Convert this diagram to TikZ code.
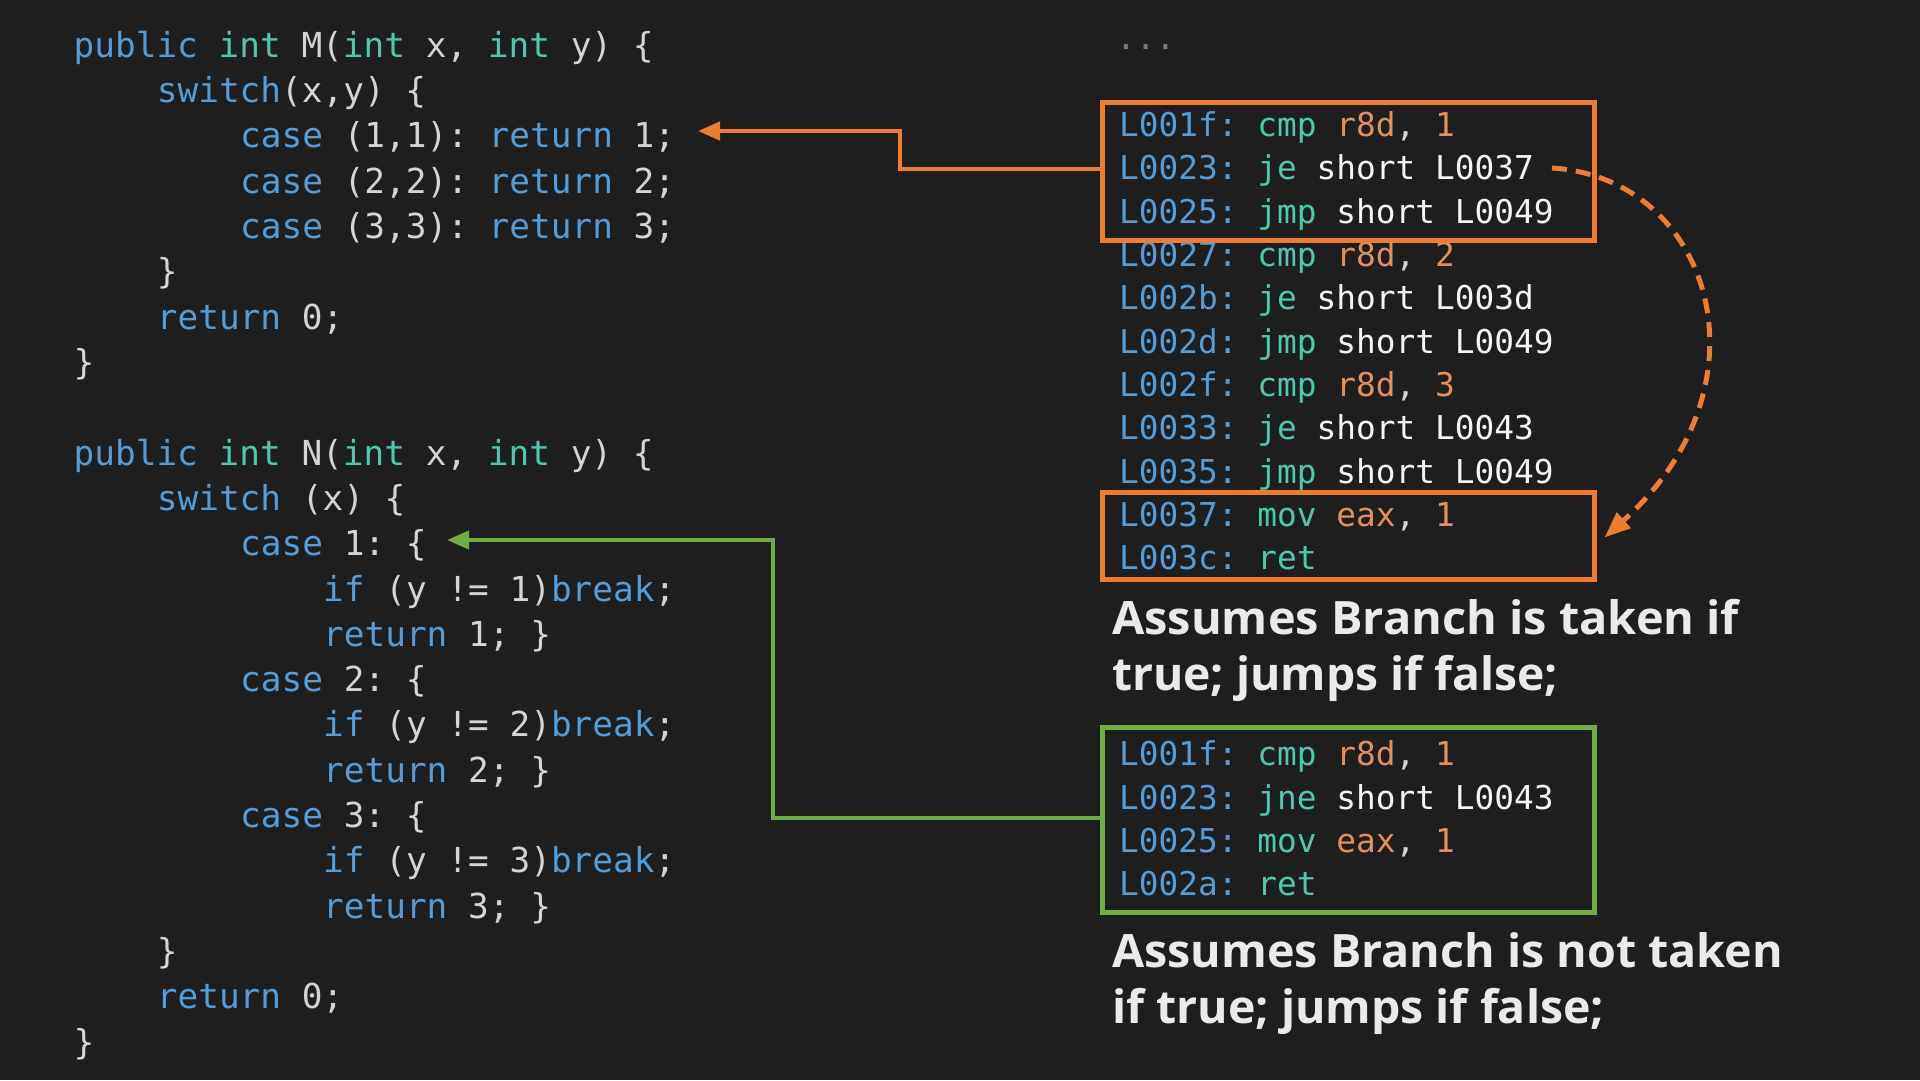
\documentclass[tikz,border=0pt]{standalone}
\usepackage{fontspec}
\usepackage{graphicx}
\usetikzlibrary{arrows.meta,calc}
\newfontfamily\codefont{DejaVu Sans Mono}
\newfontfamily\capfont{Open Sans}
\definecolor{bg}{HTML}{1E1E1E}
\definecolor{kw}{HTML}{569CD6}
\definecolor{ty}{HTML}{4EC9B0}
\definecolor{tx}{HTML}{D4D4D4}
\definecolor{st}{HTML}{E0915F}
\definecolor{wh}{HTML}{F4F4F4}
\definecolor{dim}{HTML}{7A7A7A}
\definecolor{captx}{HTML}{EAEAEA}
\definecolor{orn}{HTML}{ED7D31}
\definecolor{grn}{HTML}{70AD47}
\newcommand\ckw[1]{\textcolor{kw}{#1}}
\newcommand\cty[1]{\textcolor{ty}{#1}}
\newcommand\cor[1]{\textcolor{st}{#1}}
\newcommand\cwh[1]{\textcolor{wh}{#1}}
\tikzset{
  cl/.style={anchor=base west, inner sep=0pt, text=tx, font=\codefont\frenchspacing\fontsize{34.4}{40}\selectfont},
  al/.style={anchor=base west, inner sep=0pt, text=tx, font=\codefont\frenchspacing\fontsize{32.8}{40}\selectfont},
  captext/.style={anchor=base west, inner sep=0pt, text=captx, font=\capfont\bfseries\frenchspacing\fontsize{46}{52}\selectfont},
  hbox/.style={draw=#1, line width=5pt, minimum width=492pt, inner sep=0pt},
  conn/.style={draw=#1, line width=4.5pt, -{Triangle[length=22pt,width=18pt]}},
}
\begin{document}
\begin{tikzpicture}[x=1pt,y=-1pt]
\path[fill=bg,use as bounding box] (0,0) rectangle (1920,1080);
% ---- method M
\node[cl] (m0) at (73.5,57.3) {\ckw{public} \cty{int} M(\cty{int} x, \cty{int} y) \{};
\node[cl] (m1) at (156.7,102.6) {\ckw{switch}(x,y) \{};
\node[cl] (m2) at (240,147.9) {\ckw{case} (1,1): \ckw{return} 1;};
\node[cl] (m3) at (240,193.2) {\ckw{case} (2,2): \ckw{return} 2;};
\node[cl] (m4) at (240,238.5) {\ckw{case} (3,3): \ckw{return} 3;};
\node[cl] (m5) at (156.7,283.9) {\}};
\node[cl] (m6) at (156.7,329.2) {\ckw{return} 0;};
\node[cl] (m7) at (73.5,374.5) {\}};
% ---- method N
\node[cl] (n0) at (73.5,465.1) {\ckw{public} \cty{int} N(\cty{int} x, \cty{int} y) \{};
\node[cl] (n1) at (156.7,510.4) {\ckw{switch} (x) \{};
\node[cl] (n2) at (240,555.7) {\ckw{case} 1: \{};
\node[cl] (n3) at (323,601.0) {\ckw{if} (y != 1)\ckw{break};};
\node[cl] (n4) at (323,646.3) {\ckw{return} 1; \}};
\node[cl] (n5) at (240,691.6) {\ckw{case} 2: \{};
\node[cl] (n6) at (323,736.9) {\ckw{if} (y != 2)\ckw{break};};
\node[cl] (n7) at (323,782.2) {\ckw{return} 2; \}};
\node[cl] (n8) at (240,827.5) {\ckw{case} 3: \{};
\node[cl] (n9) at (323,872.9) {\ckw{if} (y != 3)\ckw{break};};
\node[cl] (n10) at (323,918.2) {\ckw{return} 3; \}};
\node[cl] (n11) at (156.7,963.5) {\}};
\node[cl] (n12) at (156.7,1008.8) {\ckw{return} 0;};
\node[cl] (n13) at (73.5,1054.1) {\}};
% ---- assembly, first listing
\node[al, text=dim] (dots) at (1116,49.5) {...};
\node[al] (a0) at (1119,136.4) {\ckw{L001f:} \cty{cmp} \cor{r8d}, \cor{1}};
\node[al] (a1) at (1119,179.8) {\ckw{L0023:} \cty{je} \cwh{short L0037}};
\node[al] (a2) at (1119,223.1) {\ckw{L0025:} \cty{jmp} \cwh{short L0049}};
\node[al] (a3) at (1119,266.5) {\ckw{L0027:} \cty{cmp} \cor{r8d}, \cor{2}};
\node[al] (a4) at (1119,309.8) {\ckw{L002b:} \cty{je} \cwh{short L003d}};
\node[al] (a5) at (1119,353.2) {\ckw{L002d:} \cty{jmp} \cwh{short L0049}};
\node[al] (a6) at (1119,396.5) {\ckw{L002f:} \cty{cmp} \cor{r8d}, \cor{3}};
\node[al] (a7) at (1119,439.9) {\ckw{L0033:} \cty{je} \cwh{short L0043}};
\node[al] (a8) at (1119,483.2) {\ckw{L0035:} \cty{jmp} \cwh{short L0049}};
\node[al] (a9) at (1119,526.6) {\ckw{L0037:} \cty{mov} \cor{eax}, \cor{1}};
\node[al] (a10) at (1119,569.9) {\ckw{L003c:} \cty{ret}};
% ---- assembly, second listing
\node[al] (b0) at (1119,765.8) {\ckw{L001f:} \cty{cmp} \cor{r8d}, \cor{1}};
\node[al] (b1) at (1119,809.2) {\ckw{L0023:} \cty{jne} \cwh{short L0043}};
\node[al] (b2) at (1119,852.5) {\ckw{L0025:} \cty{mov} \cor{eax}, \cor{1}};
\node[al] (b3) at (1119,895.9) {\ckw{L002a:} \cty{ret}};
% ---- boxes
\node[hbox=orn, minimum height=138pt] (box1) at (1348,171) {};
\node[hbox=orn, minimum height=87pt] (box2) at (1348,535.5) {};
\node[hbox=grn, minimum height=185pt] (gbox) at (1348,819.5) {};
% ---- captions
\node[captext] (c1a) at (1112,634) {\resizebox{627pt}{\height}{Assumes Branch is taken if}};
\node[captext] (c1b) at (1112,690) {\resizebox{446pt}{\height}{true; jumps if false;}};
\node[captext] (c2a) at (1112,967) {\resizebox{671pt}{\height}{Assumes Branch is not taken}};
\node[captext] (c2b) at (1112,1023) {\resizebox{492pt}{\height}{if true; jumps if false;}};
% ---- connectors
\coordinate (t1) at (698,131);
\coordinate (t2) at (447,540);
\coordinate (ds) at (1552,168);
\draw[conn=orn] (box1.west |- 0,169) -- (900,169) |- (t1);
\draw[conn=grn] (gbox.west |- 0,818) -- (773,818) |- (t2);
\draw[draw=orn, line width=5pt, dash pattern=on 15pt off 9pt, -{Triangle[length=26pt,width=20pt]}]
  (ds) .. controls (1712,178) and (1775,385) .. ($(box2.east)+(8,2)$);
\end{tikzpicture}
\end{document}
